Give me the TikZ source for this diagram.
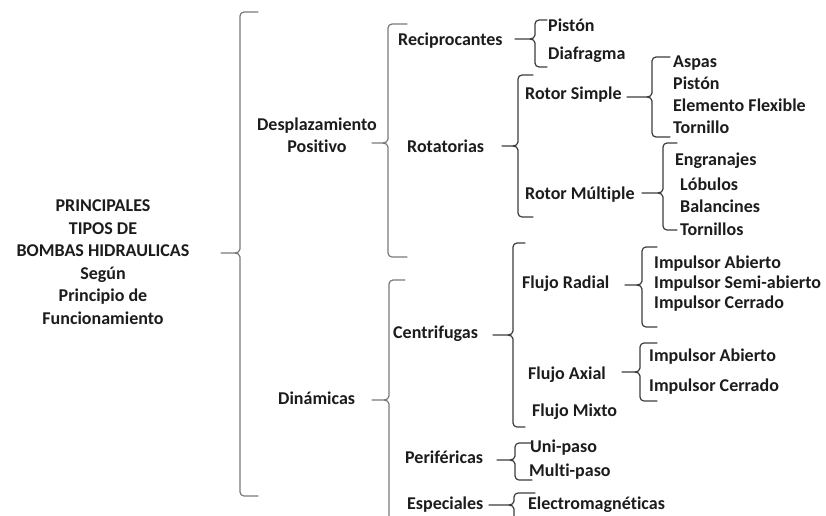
\documentclass[tikz,border=0pt]{standalone}
\usepackage{fontspec}
\setmainfont{Carlito}[RawFeature={-liga}]
\definecolor{txt}{HTML}{1C1C1C}
\definecolor{outerb}{HTML}{7A7A7A}
\definecolor{innerb}{HTML}{3C3C3C}
\newcommand\mybrc[7]{%
  \draw[brc,#7] (#6,#2) -- ({#1+4},#2) to[out=180,in=90] (#1,{#2+4}) -- (#1,{#4-4}) to[out=-90,in=0] ({#1-5},#4) -- (#5,#4);
  \draw[brc,#7] ({#1-5},#4) to[out=0,in=90] (#1,{#4+4}) -- (#1,{#3-4}) to[out=-90,in=180] ({#1+4},#3) -- (#6,#3);}
\begin{document}
\begin{tikzpicture}[x=1pt,y=-1pt,
  lbl/.style={inner sep=0pt, anchor=mid west, yshift=-4pt, font=\bfseries\fontsize{18}{22.5}\selectfont, text=txt},
  ctr/.style={inner sep=0pt, align=center, font=\bfseries\fontsize{18}{22.5}\selectfont, text=txt},
  brc/.style={line width=1.2pt, line cap=round, line join=round}]
\useasboundingbox (0,0) rectangle (826,515);
\clip (0,0) rectangle (826,515);
\fill[white] (0,0) rectangle (826,515);

% texts
\node[ctr] (title) at (103,262) {PRINCIPALES\\TIPOS DE\\BOMBAS HIDRAULICAS\\Según\\Principio de\\Funcionamiento};
\node[ctr] (desp) at (317,135) {Desplazamiento\\Positivo};
\node[lbl] (din) at (278,398) {Dinámicas};
\node[lbl] (recip) at (398,39) {Reciprocantes};
\node[lbl] (rotat) at (407,146) {Rotatorias};
\node[lbl] (piston1) at (548,25) {Pistón};
\node[lbl] (diaf) at (548,53) {Diafragma};
\node[lbl] (rsimple) at (525,93) {Rotor Simple};
\node[lbl] (aspas) at (673,61) {Aspas};
\node[lbl] (piston2) at (673,83) {Pistón};
\node[lbl] (elem) at (673,105) {Elemento Flexible};
\node[lbl] (torn) at (673,127) {Tornillo};
\node[lbl] (rmult) at (525,193) {Rotor Múltiple};
\node[lbl] (engr) at (675,159) {Engranajes};
\node[lbl] (lob) at (680,184) {Lóbulos};
\node[lbl] (bal) at (680,206) {Balancines};
\node[lbl] (torns) at (680,229) {Tornillos};
\node[lbl] (centr) at (393,332) {Centrifugas};
\node[lbl] (frad) at (522,282) {Flujo Radial};
\node[lbl] (ia1) at (654,262) {Impulsor Abierto};
\node[lbl] (isa) at (654,282) {Impulsor Semi-abierto};
\node[lbl] (ic1) at (654,302) {Impulsor Cerrado};
\node[lbl] (fax) at (528,373) {Flujo Axial};
\node[lbl] (ia2) at (649,355) {Impulsor Abierto};
\node[lbl] (ic2) at (649,385) {Impulsor Cerrado};
\node[lbl] (fmix) at (532,410) {Flujo Mixto};
\node[lbl] (perif) at (405,457) {Periféricas};
\node[lbl] (uni) at (530,446) {Uni-paso};
\node[lbl] (multi) at (529,470) {Multi-paso};
\node[lbl] (espec) at (407,503) {Especiales};
\node[lbl] (electro) at (528,503) {Electromagnéticas};

% braces: xv, top, bottom, mid, tip, hook, colour
\mybrc{240}{12}{496}{253}{221}{258}{outerb}
\mybrc{388}{24}{257}{143}{372}{407}{outerb}
\mybrc{389}{280}{540}{400}{372}{405}{outerb}
\mybrc{535}{20}{67}{39}{515}{547}{innerb}
\mybrc{518}{75}{217}{146}{502}{533}{innerb}
\mybrc{652}{57}{137}{97}{627}{670}{innerb}
\mybrc{663}{143}{230}{193}{642}{677}{innerb}
\mybrc{513}{243}{427}{335}{493}{525}{innerb}
\mybrc{642}{247}{327}{285}{625}{657}{innerb}
\mybrc{640}{343}{401}{372}{622}{657}{innerb}
\mybrc{515}{443}{480}{460}{497}{532}{innerb}
\mybrc{514}{493}{540}{505}{489}{535}{innerb}
\end{tikzpicture}
\end{document}
